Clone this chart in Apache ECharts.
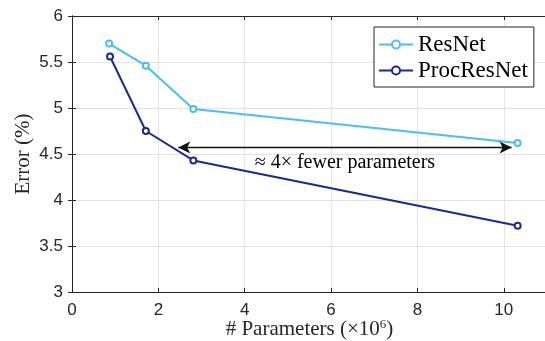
<!DOCTYPE html>
<html><head><meta charset="utf-8">
<script src="https://cdn.jsdelivr.net/npm/echarts@6/dist/echarts.min.js"></script>
<style>html,body{margin:0;padding:0;background:#fff}#c{width:545px;height:341px}</style>
</head><body><div id="c"></div>
<script>
const seriesNames = ['ResNet', 'ProcResNet'];
const resnetX = [0.86, 1.71, 2.81, 10.32];
const resnetY = [5.70, 5.46, 4.99, 4.62];
const procX = [0.88, 1.71, 2.81, 10.32];
const procY = [5.56, 4.75, 4.43, 3.72];
const arrowStart = [2.46, 4.57];
const arrowEnd = [10.18, 4.57];
const annotation = '\u2248 4\u00d7 fewer parameters';
const xTicks = [0, 2, 4, 6, 8, 10];
const yTicks = [3, 3.5, 4, 4.5, 5, 5.5, 6];

const serif = 'Liberation Serif';
const sans = 'Liberation Sans';
const axisColor = '#262626';

const chart = echarts.init(document.getElementById('c'), null, {renderer: 'canvas'});
const pair = (xs, ys) => xs.map((x, i) => [x, ys[i]]);
const grid = {left: 72, top: 16, width: 475, height: 276, containLabel: false, outerBoundsMode: 'none'};

const baseX = {
  type: 'value', min: 0, max: 11, interval: 2,
  axisLine: {show: true, lineStyle: {color: axisColor, width: 1}},
  axisTick: {show: true, inside: true, length: 4, lineStyle: {color: axisColor}},
};
const baseY = {
  type: 'value', min: 3, max: 6, interval: 0.5,
  axisLine: {show: true, lineStyle: {color: axisColor, width: 1}},
  axisTick: {show: true, inside: true, length: 4, lineStyle: {color: axisColor}},
};

chart.setOption({
  animation: false,
  backgroundColor: '#fff',
  grid: grid,
  legend: {
    orient: 'vertical', left: 374, top: 27, width: 160,
    padding: [6, 6, 5, 4], itemGap: 3,
    backgroundColor: '#fff', borderColor: axisColor, borderWidth: 1,
    itemWidth: 34, itemHeight: 10,
    textStyle: {fontFamily: serif, fontSize: 23, color: '#000'},
    data: seriesNames
  },
  xAxis: [
    Object.assign({}, baseX, {
      position: 'bottom',
      axisLabel: {show: true, fontFamily: sans, fontSize: 17, color: axisColor, margin: 10,
        formatter: v => xTicks.includes(v) ? String(v) : ''},
      splitLine: {show: true, lineStyle: {color: '#e3e3e3', width: 1}},
      name: '# Parameters (\u00d710{sup|6})',
      nameLocation: 'middle', nameGap: 26, nameMoveOverlap: false,
      nameTextStyle: {fontFamily: serif, fontSize: 21, color: axisColor,
        rich: {sup: {fontFamily: serif, fontSize: 13, color: axisColor, verticalAlign: 'top', padding: [0, 0, 9, 0]}}}
    }),
    Object.assign({}, baseX, {
      position: 'top', axisLabel: {show: false}, splitLine: {show: false}
    })
  ],
  yAxis: [
    Object.assign({}, baseY, {
      position: 'left',
      axisLabel: {show: true, fontFamily: sans, fontSize: 17, color: axisColor, margin: 9,
        formatter: v => yTicks.includes(v) ? String(v) : ''},
      splitLine: {show: true, lineStyle: {color: '#e3e3e3', width: 1}},
      name: 'Error (%)', nameLocation: 'middle', nameGap: 38, nameMoveOverlap: false,
      nameTextStyle: {fontFamily: serif, fontSize: 21, color: axisColor}
    }),
    Object.assign({}, baseY, {
      position: 'right', axisLabel: {show: false}, splitLine: {show: false}
    })
  ],
  series: [
    {
      name: seriesNames[0], type: 'line', xAxisIndex: 0, yAxisIndex: 0,
      data: pair(resnetX, resnetY),
      color: '#4DBEEE',
      lineStyle: {width: 2, color: '#4DBEEE'},
      symbol: 'emptyCircle', symbolSize: 6,
      itemStyle: {color: '#4DBEEE', borderWidth: 1.6, borderColor: '#4DBEEE'},
      z: 3
    },
    {
      name: seriesNames[1], type: 'line', xAxisIndex: 0, yAxisIndex: 0,
      data: pair(procX, procY),
      color: '#1C2A8C',
      lineStyle: {width: 2, color: '#1C2A8C'},
      symbol: 'emptyCircle', symbolSize: 6,
      itemStyle: {color: '#1C2A8C', borderWidth: 1.6, borderColor: '#1C2A8C'},
      z: 3,
      markLine: {
        silent: true, symbol: ['arrow', 'arrow'], symbolSize: [9, 12],
        lineStyle: {color: '#111', width: 1.3, type: 'solid'},
        label: {show: true, position: 'insideMiddleBottom', formatter: annotation,
          fontFamily: serif, fontSize: 20, color: '#000', distance: 5},
        data: [[{coord: arrowStart}, {coord: arrowEnd}]]
      }
    }
  ]
});
</script></body></html>
